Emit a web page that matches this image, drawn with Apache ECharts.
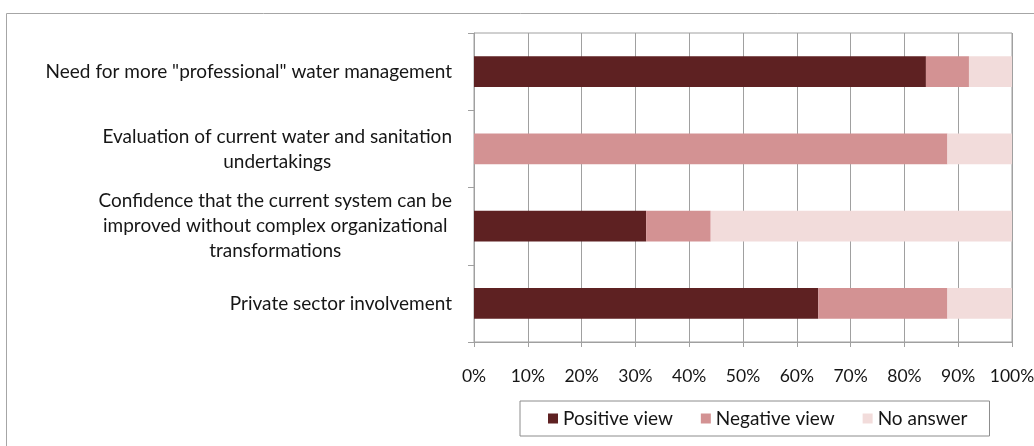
<!DOCTYPE html>
<html>
<head>
<meta charset="utf-8">
<script src="https://cdn.jsdelivr.net/npm/echarts@6/dist/echarts.min.js"></script>
<style>
  html, body { margin: 0; padding: 0; background: #fff; }
  #chart { width: 1034px; height: 446px; }
</style>
</head>
<body>
<div id="chart"></div>
<script>
// Survey statements, listed top to bottom
const categories = [
  'Need for more "professional" water management',
  'Evaluation of current water and sanitation\nundertakings',
  'Confidence that the current system can be\nimproved without complex organizational\ntransformations',
  'Private sector involvement'
];

// Share of respondents (%) per statement
const positiveView = [84, 0, 32, 64];
const negativeView = [8, 88, 12, 24];
const noAnswer = [8, 12, 56, 12];

const seriesNames = ['Positive view', 'Negative view', 'No answer'];
const seriesColors = ['#5E2122', '#D39293', '#F2DCDB'];

const FONT = 'Lato';
const FONT_SIZE = 19;
const TEXT_COLOR = '#161616';
const chart = echarts.init(document.getElementById('chart'), null, { renderer: 'canvas' });

const makeSeries = (name, data, color) => ({
  name, type: 'bar', stack: 'total', data, barWidth: '40%',
  itemStyle: { color }, emphasis: { disabled: true }
});

chart.setOption({
  animation: false,
  textStyle: { fontFamily: FONT },
  graphic: [{
    type: 'rect', left: 4, top: 11, silent: true,
    shape: { width: 1100, height: 500 },
    style: { fill: 'none', stroke: '#A6A6A6', lineWidth: 1 }
  }],
  grid: {
    left: 474, right: 22, top: 33, bottom: 104,
    containLabel: false, outerBoundsMode: 'none',
    show: true, borderColor: '#A0A0A0', borderWidth: 1
  },
  legend: {
    data: seriesNames,
    left: 520, top: 401,
    orient: 'horizontal',
    itemWidth: 10, itemHeight: 10, itemGap: 28,
    padding: [8, 22, 8, 28],
    borderColor: '#8C8C8C', borderWidth: 1,
    icon: 'rect',
    textStyle: { fontFamily: FONT, fontSize: FONT_SIZE, color: TEXT_COLOR, padding: [0, 0, 0, 0] }
  },
  xAxis: {
    type: 'value', min: 0, max: 100, interval: 10,
    axisLine: { show: true, lineStyle: { color: '#A0A0A0' } },
    axisTick: { show: true, length: 5, lineStyle: { color: '#A0A0A0' } },
    splitLine: { show: true, lineStyle: { color: '#A0A0A0', width: 1 } },
    axisLabel: { formatter: '{value}%', margin: 25, fontFamily: FONT, fontSize: 17.5, color: TEXT_COLOR }
  },
  yAxis: {
    type: 'category', data: categories, inverse: true,
    axisLine: { show: true, lineStyle: { color: '#A0A0A0' } },
    axisTick: { show: true, length: 6, lineStyle: { color: '#A0A0A0' } },
    axisLabel: {
      margin: 22, align: 'right', fontFamily: FONT, fontSize: FONT_SIZE, color: TEXT_COLOR, lineHeight: 25,
      formatter: v => v.split('\n').map(s => '{c|' + s + '}').join('\n'),
      rich: { c: { align: 'center', fontFamily: FONT, fontSize: FONT_SIZE, color: TEXT_COLOR, lineHeight: 25 } }
    }
  },
  series: [
    makeSeries(seriesNames[0], positiveView, seriesColors[0]),
    makeSeries(seriesNames[1], negativeView, seriesColors[1]),
    makeSeries(seriesNames[2], noAnswer, seriesColors[2])
  ]
});
</script>
</body>
</html>
